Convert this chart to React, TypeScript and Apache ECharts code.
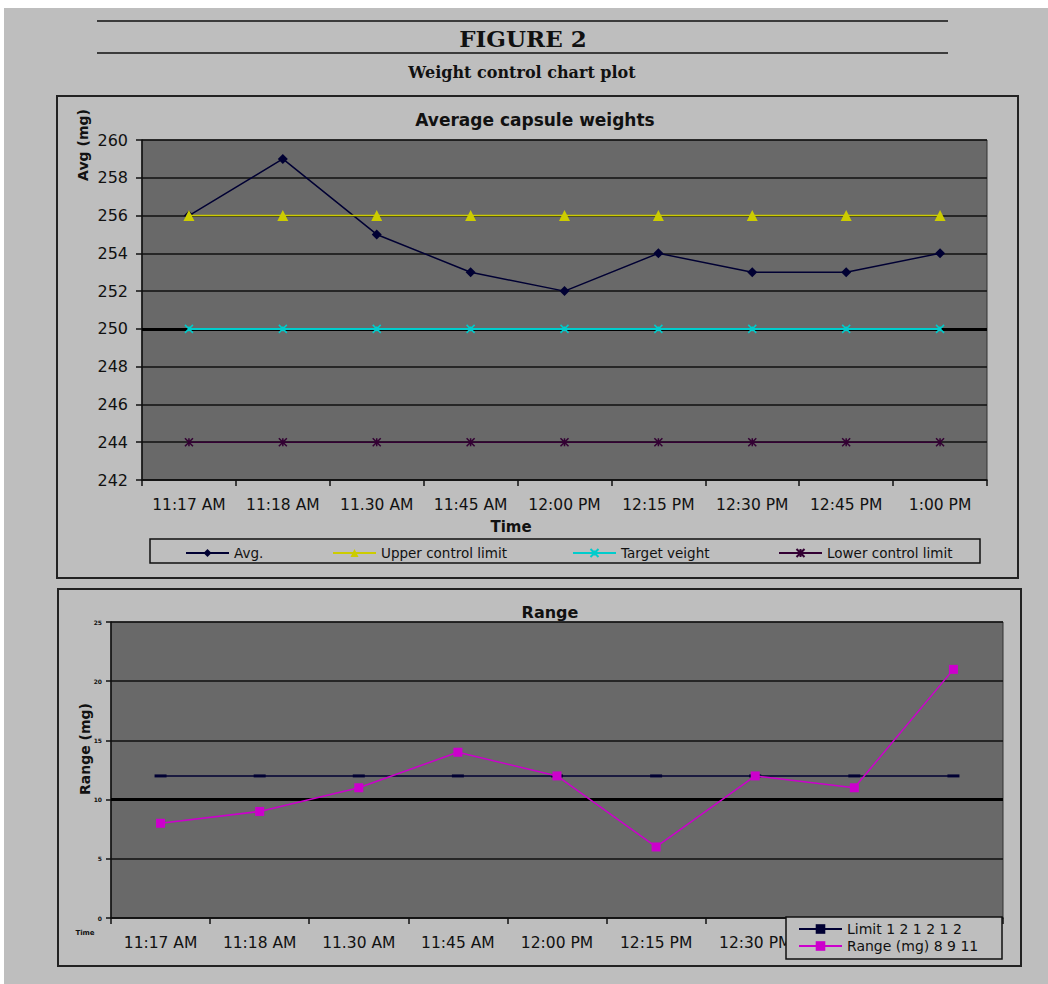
import React, { useEffect, useRef } from "react";
import * as echarts from "echarts";

const times = ["11:17 AM", "11:18 AM", "11.30 AM", "11:45 AM", "12:00 PM", "12:15 PM", "12:30 PM", "12:45 PM", "1:00 PM"];
const avgValues = [256, 259, 255, 253, 252, 254, 253, 253, 254];
const upperLimit = [256, 256, 256, 256, 256, 256, 256, 256, 256];
const targetWeight = [250, 250, 250, 250, 250, 250, 250, 250, 250];
const lowerLimit = [244, 244, 244, 244, 244, 244, 244, 244, 244];
const rangeLimit = [12, 12, 12, 12, 12, 12, 12, 12, 12];
const rangeValues = [8, 9, 11, 14, 12, 6, 12, 11, 21];

const SANS = "DejaVu Sans";
const SERIF = "DejaVu Serif";
const PAGE = "#bebebe";
const PLOT = "#696969";

export default function App() {
  const ref = useRef<HTMLDivElement>(null);
  useEffect(() => {
    if (!ref.current) return;
    const chart = echarts.init(ref.current, undefined, { renderer: "svg" });
    const legendText = { fontSize: 13.5, fontFamily: SANS, color: "#111" };
    const option: any = {
      animation: false,
      backgroundColor: "#ffffff",
      graphic: [
        { type: "rect", shape: { x: 4, y: 8, width: 1044, height: 976 }, style: { fill: PAGE }, z: -10, silent: true },
        { type: "line", shape: { x1: 97, y1: 21, x2: 948, y2: 21 }, style: { stroke: "#111", lineWidth: 1.5 }, z: -5 },
        { type: "line", shape: { x1: 97, y1: 53, x2: 948, y2: 53 }, style: { stroke: "#111", lineWidth: 1.5 }, z: -5 },
        { type: "text", x: 523, y: 38, style: { text: "FIGURE 2", font: `bold 23px "${SERIF}"`, fill: "#111", align: "center", verticalAlign: "middle" } },
        { type: "text", x: 522, y: 72, style: { text: "Weight control chart plot", font: `bold 16px "${SERIF}"`, fill: "#111", align: "center", verticalAlign: "middle" } },
        { type: "rect", shape: { x: 57, y: 96, width: 961, height: 482 }, style: { fill: "none", stroke: "#222", lineWidth: 2 }, z: -5 },
        { type: "rect", shape: { x: 58, y: 589, width: 963, height: 377 }, style: { fill: "none", stroke: "#222", lineWidth: 2 }, z: -5 },
        { type: "text", x: 535, y: 120, style: { text: "Average capsule weights", font: `bold 17px "${SANS}"`, fill: "#111", align: "center", verticalAlign: "middle" } },
        { type: "text", x: 550, y: 612, style: { text: "Range", font: `bold 16px "${SANS}"`, fill: "#111", align: "center", verticalAlign: "middle" } },
        { type: "text", x: 83, y: 145, rotation: Math.PI / 2, style: { text: "Avg (mg)", font: `bold 14px "${SANS}"`, fill: "#111", align: "center", verticalAlign: "middle" } },
        { type: "text", x: 85, y: 749, rotation: Math.PI / 2, style: { text: "Range (mg)", font: `bold 14px "${SANS}"`, fill: "#111", align: "center", verticalAlign: "middle" } },
        { type: "text", x: 511, y: 527, style: { text: "Time", font: `bold 15px "${SANS}"`, fill: "#111", align: "center", verticalAlign: "middle" } },
        { type: "text", x: 85, y: 933, style: { text: "Time", font: `bold 7px "${SANS}"`, fill: "#111", align: "center", verticalAlign: "middle" } },
        { type: "rect", shape: { x: 150, y: 539, width: 830, height: 24 }, style: { fill: "none", stroke: "#111", lineWidth: 1.5 }, z: 1 },
        { type: "rect", shape: { x: 786, y: 917, width: 216, height: 42 }, style: { fill: PAGE, stroke: "#111", lineWidth: 1.5 }, z: 3 },
      ],
      legend: [
        { data: ["Avg."], left: 185, top: 546, padding: 0, itemWidth: 43, itemHeight: 10, textStyle: legendText },
        { data: ["Upper control limit"], left: 332, top: 546, padding: 0, itemWidth: 43, itemHeight: 10, textStyle: legendText },
        { data: ["Target veight"], left: 572, top: 546, padding: 0, itemWidth: 43, itemHeight: 10, textStyle: legendText },
        { data: ["Lower control limit"], left: 778, top: 546, padding: 0, itemWidth: 43, itemHeight: 10, textStyle: legendText },
        {
          data: ["Limit 1 2 1 2 1 2", "Range (mg) 8 9 11"],
          orient: "vertical",
          left: 798,
          top: 922,
          padding: 0,
          itemGap: 3,
          itemWidth: 43,
          itemHeight: 12,
          z: 5,
          textStyle: { fontSize: 14, fontFamily: SANS, color: "#111" },
        },
      ],
      grid: [
        { left: 142, top: 140, width: 845, height: 340, show: true, backgroundColor: PLOT, borderColor: "#333", borderWidth: 1 },
        { left: 111, top: 622, width: 892, height: 296, show: true, backgroundColor: PLOT, borderColor: "#333", borderWidth: 1 },
      ],
      xAxis: [
        {
          type: "category",
          gridIndex: 0,
          data: times,
          boundaryGap: true,
          axisLine: { lineStyle: { color: "#111", width: 1.5 } },
          axisTick: { show: true, length: 6, lineStyle: { color: "#111", width: 1.5 } },
          axisLabel: { interval: 0, margin: 17, fontSize: 15.5, fontFamily: SANS, color: "#111" },
        },
        {
          type: "category",
          gridIndex: 1,
          data: times,
          boundaryGap: true,
          axisLine: { lineStyle: { color: "#111", width: 1.5 } },
          axisTick: { show: true, interval: 0, length: 6, lineStyle: { color: "#111", width: 1.5 } },
          axisLabel: {
            interval: (i: number) => i < 7,
            margin: 17,
            fontSize: 15.5,
            fontFamily: SANS,
            color: "#111",
          },
        },
      ],
      yAxis: [
        {
          type: "value",
          gridIndex: 0,
          min: 242,
          max: 260,
          interval: 2,
          axisLine: { show: true, lineStyle: { color: "#111", width: 1.5 } },
          axisTick: { show: true, length: 6, lineStyle: { color: "#111", width: 1.5 } },
          axisLabel: { margin: 14, fontSize: 16, fontFamily: SANS, color: "#111" },
          splitLine: { show: true, lineStyle: { color: "#111", width: 1.5 } },
        },
        {
          type: "value",
          gridIndex: 1,
          min: 0,
          max: 25,
          interval: 5,
          axisLine: { show: true, lineStyle: { color: "#111", width: 1.5 } },
          axisTick: { show: true, length: 5, lineStyle: { color: "#111", width: 1.5 } },
          axisLabel: { margin: 9, fontSize: 6, fontWeight: "bold", fontFamily: SANS, color: "#111" },
          splitLine: { show: true, lineStyle: { color: "#111", width: 1.5 } },
        },
      ],
      series: [
        {
          name: "Avg.",
          type: "line",
          xAxisIndex: 0,
          yAxisIndex: 0,
          z: 2,
          data: avgValues,
          symbol: "diamond",
          symbolSize: 10,
          color: "#000033",
          lineStyle: { color: "#000033", width: 1.5 },
          itemStyle: { color: "#000033" },
          markLine: {
            z: 1,
            silent: true,
            symbol: "none",
            label: { show: false },
            lineStyle: { color: "#000", width: 3, type: "solid" },
            data: [{ yAxis: 250 }],
          },
        },
        {
          name: "Upper control limit",
          type: "line",
          xAxisIndex: 0,
          yAxisIndex: 0,
          z: 3,
          data: upperLimit,
          symbol: "triangle",
          symbolSize: 11,
          color: "#cccc00",
          lineStyle: { color: "#cccc00", width: 1.5 },
          itemStyle: { color: "#cccc00" },
        },
        {
          name: "Target veight",
          type: "line",
          xAxisIndex: 0,
          yAxisIndex: 0,
          z: 3,
          data: targetWeight,
          symbol: "path://M0,0L10,10M10,0L0,10M5,2L5,8",
          symbolSize: 8,
          color: "#00cccc",
          lineStyle: { color: "#00cccc", width: 2 },
          itemStyle: { color: "#00cccc", borderColor: "#00cccc", borderWidth: 1.5 },
        },
        {
          name: "Lower control limit",
          type: "line",
          xAxisIndex: 0,
          yAxisIndex: 0,
          z: 3,
          data: lowerLimit,
          symbol: "path://M0,0L10,10M10,0L0,10M5,0L5,10",
          symbolSize: 8,
          color: "#330033",
          lineStyle: { color: "#330033", width: 1.5 },
          itemStyle: { color: "#330033", borderColor: "#330033", borderWidth: 1.5 },
        },
        {
          name: "Limit 1 2 1 2 1 2",
          type: "line",
          xAxisIndex: 1,
          yAxisIndex: 1,
          z: 3,
          data: rangeLimit,
          symbol: "rect",
          symbolSize: [12, 3],
          color: "#000033",
          lineStyle: { color: "#000033", width: 1.5 },
          itemStyle: { color: "#000033" },
          markLine: {
            z: 1,
            silent: true,
            symbol: "none",
            label: { show: false },
            lineStyle: { color: "#000", width: 3, type: "solid" },
            data: [{ yAxis: 10 }],
          },
        },
        {
          name: "Range (mg) 8 9 11",
          type: "line",
          xAxisIndex: 1,
          yAxisIndex: 1,
          z: 4,
          data: rangeValues,
          symbol: "rect",
          symbolSize: 9,
          color: "#cc00cc",
          lineStyle: { color: "#cc00cc", width: 1.5 },
          itemStyle: { color: "#cc00cc" },
        },
      ],
    };
    chart.setOption(option);
    return () => chart.dispose();
  }, []);
  return (
    <div
      ref={ref}
      style={{ position: "absolute", left: 0, top: 0, width: 1048, height: 984 }}
    />
  );
}
